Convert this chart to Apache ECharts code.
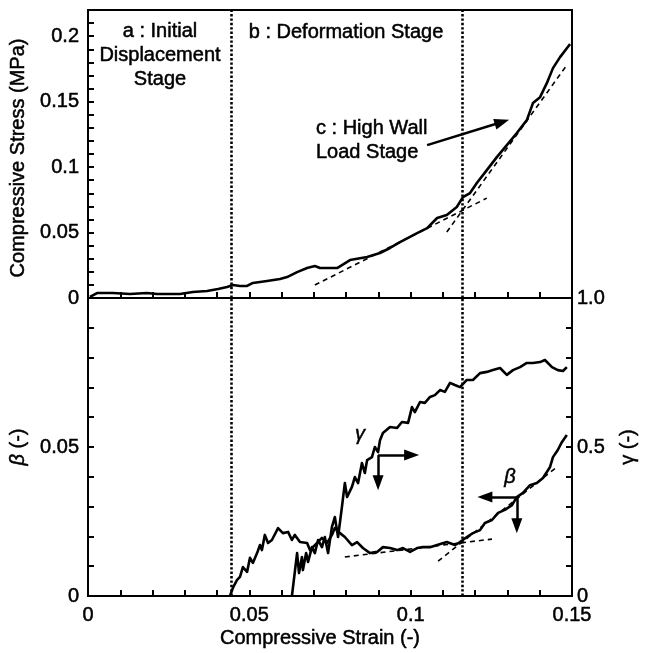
<!DOCTYPE html>
<html>
<head>
<meta charset="utf-8">
<script src="https://cdn.jsdelivr.net/npm/echarts@6/dist/echarts.min.js"></script>
<style>html,body{margin:0;padding:0;background:#fff}#c{width:651px;height:653px}</style>
</head>
<body>
<div id="c"></div>
<script>
// ---------- data ----------
const stressStrain = [0.0006,0.0028,0.0077,0.0130,0.0183,0.0214,0.0285,0.0325,0.0369,0.0403,0.0431,0.0449,0.0471,0.0493,0.0511,0.0555,0.0595,0.0617,0.0648,0.0679,0.0703,0.0719,0.0772,0.0812,0.0865,0.0905,0.0936,0.0967,0.1020,0.1051,0.1082,0.1112,0.1143,0.1162,0.1184,0.1205,0.1236,0.1267,0.1298,0.1329,0.1360,0.1379,0.1401,0.1422,0.1441,0.1463,0.1484,0.1494];
const stressValues = [0.0008,0.0038,0.0038,0.0031,0.0038,0.0031,0.0031,0.0046,0.0053,0.0069,0.0084,0.0099,0.0092,0.0092,0.0115,0.0130,0.0145,0.0160,0.0198,0.0229,0.0244,0.0229,0.0229,0.0290,0.0313,0.0344,0.0382,0.0427,0.0496,0.0534,0.0611,0.0634,0.0695,0.0771,0.0802,0.0878,0.0977,0.1076,0.1168,0.1260,0.1359,0.1489,0.1534,0.1641,0.1756,0.1840,0.1908,0.1939];

const betaStrain = [0.0440,0.0449,0.0462,0.0471,0.0480,0.0493,0.0502,0.0511,0.0524,0.0533,0.0539,0.0548,0.0558,0.0570,0.0589,0.0604,0.0620,0.0632,0.0641,0.0657,0.0679,0.0688,0.0710,0.0725,0.0741,0.0756,0.0765,0.0781,0.0796,0.0818,0.0834,0.0852,0.0874,0.0896,0.0914,0.0936,0.0958,0.0976,0.0998,0.1020,0.1038,0.1060,0.1082,0.1112,0.1137,0.1153,0.1174,0.1193,0.1215,0.1230,0.1252,0.1271,0.1292,0.1314,0.1329,0.1348,0.1370,0.1391,0.1410,0.1432,0.1441,0.1456,0.1469,0.1484];
const betaValues = [0,0.0027,0.0054,0.0064,0.0097,0.0081,0.0128,0.0111,0.0144,0.0171,0.0154,0.0205,0.0178,0.0188,0.0228,0.0211,0.0215,0.0188,0.0205,0.0181,0.0178,0.0154,0.0178,0.0195,0.0178,0.0205,0.0228,0.0211,0.0198,0.0171,0.0181,0.0161,0.0144,0.0148,0.0164,0.0161,0.0154,0.0161,0.0148,0.0161,0.0164,0.0164,0.0171,0.0181,0.0171,0.0181,0.0198,0.0211,0.0221,0.0245,0.0255,0.0279,0.0289,0.0305,0.0332,0.0346,0.0372,0.0379,0.0396,0.0433,0.0466,0.0490,0.0517,0.0540];

const gammaStrain = [0.0632,0.0648,0.0654,0.0663,0.0666,0.0676,0.0682,0.0694,0.0703,0.0713,0.0725,0.0734,0.0744,0.0756,0.0765,0.0775,0.0787,0.0796,0.0803,0.0818,0.0827,0.0837,0.0849,0.0858,0.0865,0.0880,0.0889,0.0899,0.0905,0.0914,0.0936,0.0958,0.0973,0.0992,0.1004,0.1013,0.1029,0.1044,0.1060,0.1075,0.1091,0.1106,0.1122,0.1137,0.1153,0.1174,0.1193,0.1215,0.1236,0.1255,0.1277,0.1298,0.1317,0.1339,0.1360,0.1379,0.1401,0.1416,0.1438,0.1456,0.1472,0.1484];
const gammaValues = [0,0.144,0.077,0.131,0.087,0.144,0.114,0.164,0.144,0.188,0.164,0.198,0.144,0.232,0.265,0.198,0.299,0.379,0.332,0.366,0.399,0.379,0.446,0.413,0.456,0.466,0.500,0.483,0.523,0.547,0.567,0.564,0.584,0.581,0.634,0.617,0.651,0.648,0.668,0.674,0.691,0.685,0.715,0.708,0.701,0.725,0.725,0.748,0.752,0.758,0.765,0.742,0.758,0.768,0.782,0.782,0.785,0.792,0.768,0.758,0.755,0.768];

// tangent (dashed) lines
const stressTangentLowX = [0.0703, 0.1236], stressTangentLowY = [0.0099, 0.0763];
const stressTangentHighX = [0.1112, 0.1484], stressTangentHighY = [0.0504, 0.1779];
const betaTangentLowX = [0.0796, 0.1252], betaTangentLowY = [0.0131, 0.0191];
const betaTangentHighX = [0.1085, 0.1450], betaTangentHighY = [0.0117, 0.0430];

// stage boundaries (strain)
const stageBoundaries = [0.0445, 0.1159];

// arrows: [startStrain, startValue, endStrain, endValue]
const stageCArrow = [0.1051, 0.1168, 0.1283, 0.1344];
const gammaArrows = [[0.0899, 0.473, 0.1003, 0.473], [0.0899, 0.473, 0.0899, 0.380]];
const betaArrows = [[0.1329, 0.0332, 0.1230, 0.0332], [0.1329, 0.0332, 0.1329, 0.0236]];

// tick labels
const strainTicks = [0, 0.05, 0.1, 0.15], strainTickText = ['0', '0.05', '0.1', '0.15'];
const stressTicks = [0, 0.05, 0.1, 0.15, 0.2], stressTickText = ['0', '0.05', '0.1', '0.15', '0.2'];
const betaTicks = [0, 0.05], betaTickText = ['0', '0.05'];
const gammaTicks = [0, 0.5, 1.0], gammaTickText = ['0', '0.5', '1.0'];

// ---------- chart ----------
const zip = (a, b) => a.map((v, i) => [v, b[i]]);
const labelFor = (vals, texts) => v => {
  for (let i = 0; i < vals.length; i++) if (Math.abs(v - vals[i]) < 1e-6) return texts[i];
  return '';
};
const FONT = 'Liberation Sans, Arial, Helvetica, sans-serif';
const txt = { color: '#000', fontFamily: FONT, fontSize: 20, textBorderColor: '#000', textBorderWidth: 0.5 };
const axisLine = { show: true, onZero: false, lineStyle: { color: '#000', width: 2 } };
const tick = { show: true, inside: true, length: 6, lineStyle: { color: '#000', width: 2 } };
const arrowLine = (arr) => arr.map(a => [
  { coord: [a[0], a[1]], symbol: 'none' },
  { coord: [a[2], a[3]], symbol: 'triangle', symbolSize: [11, 15] }
]);
const boundaryMark = {
  silent: true, precision: 6, symbol: ['none', 'none'], label: { show: false },
  lineStyle: { color: '#000', width: 2.6, type: [2.4, 2] },
  data: stageBoundaries.map(v => ({ xAxis: v }))
};
const arrowMark = (arr) => ({
  silent: true, precision: 6, label: { show: false },
  lineStyle: { color: '#000', width: 2.5, type: 'solid' },
  data: arrowLine(arr)
});
const curveStyle = { color: '#000', width: 2.6, join: 'round' };
const dashStyle = { color: '#000', width: 1.6, type: [5, 4] };
const gText = (text, x, y, align, extra) => ({
  type: 'text', x, y,
  style: Object.assign({ text, fill: '#000', font: '20px ' + FONT, lineHeight: 24, align,
    verticalAlign: 'middle', stroke: '#000', lineWidth: 0.5 }, extra || {})
});

const chart = echarts.init(document.getElementById('c'), null, { renderer: 'canvas' });
chart.setOption({
  animation: false,
  backgroundColor: '#fff',
  grid: [
    { left: 88, right: 79, top: 10, height: 288, show: true, borderColor: '#000', borderWidth: 2 },
    { left: 88, right: 79, top: 298, height: 298, show: true, borderColor: '#000', borderWidth: 2 }
  ],
  xAxis: [
    { type: 'value', gridIndex: 0, min: 0, max: 0.15, interval: 0.01,
      axisLine, axisTick: tick, axisLabel: { show: false }, splitLine: { show: false } },
    { type: 'value', gridIndex: 1, min: 0, max: 0.15, interval: 0.01,
      axisLine, axisTick: tick, splitLine: { show: false },
      axisLabel: Object.assign({ margin: 9, formatter: labelFor(strainTicks, strainTickText) }, txt),
      name: 'Compressive Strain (-)', nameLocation: 'middle', nameGap: 32,
      nameTextStyle: Object.assign({ padding: [0, 20, 0, 0] }, txt) }
  ],
  yAxis: [
    { type: 'value', gridIndex: 0, min: 0, max: 0.22, interval: 0.01,
      axisLine, axisTick: tick, splitLine: { show: false },
      axisLabel: Object.assign({ margin: 9, formatter: labelFor(stressTicks, stressTickText) }, txt),
      name: 'Compressive Stress (MPa)', nameLocation: 'middle', nameRotate: 90, nameGap: 58,
      nameTextStyle: Object.assign({ padding: [0, 8, 0, 0] }, txt) },
    { type: 'value', gridIndex: 1, min: 0, max: 0.1, interval: 0.01, position: 'left',
      axisLine, axisTick: tick, splitLine: { show: false },
      axisLabel: Object.assign({ margin: 9, formatter: labelFor(betaTicks, betaTickText) }, txt),
      name: '{i|β} (-)', nameLocation: 'middle', nameRotate: 90, nameGap: 58,
      nameTextStyle: Object.assign({ rich: { i: Object.assign({ fontStyle: 'italic' }, txt) } }, txt) },
    { type: 'value', gridIndex: 1, min: 0, max: 1, interval: 0.1, position: 'right',
      axisLine, axisTick: tick, splitLine: { show: false },
      axisLabel: Object.assign({ margin: 5, formatter: labelFor(gammaTicks, gammaTickText) }, txt),
      name: 'γ (-)', nameLocation: 'middle', nameRotate: 90, nameGap: 46,
      nameTextStyle: txt }
  ],
  series: [
    { type: 'line', xAxisIndex: 0, yAxisIndex: 0, showSymbol: false, lineStyle: curveStyle,
      data: zip(stressStrain, stressValues), markLine: boundaryMark, z: 3 },
    { type: 'line', xAxisIndex: 0, yAxisIndex: 0, showSymbol: false, lineStyle: dashStyle,
      data: zip(stressTangentLowX, stressTangentLowY) },
    { type: 'line', xAxisIndex: 0, yAxisIndex: 0, showSymbol: false, lineStyle: dashStyle,
      data: zip(stressTangentHighX, stressTangentHighY), markLine: arrowMark([stageCArrow]) },
    { type: 'line', xAxisIndex: 1, yAxisIndex: 1, showSymbol: false, lineStyle: curveStyle,
      data: zip(betaStrain, betaValues), markLine: boundaryMark, z: 3 },
    { type: 'line', xAxisIndex: 1, yAxisIndex: 1, showSymbol: false, lineStyle: dashStyle,
      data: zip(betaTangentLowX, betaTangentLowY) },
    { type: 'line', xAxisIndex: 1, yAxisIndex: 1, showSymbol: false, lineStyle: dashStyle,
      data: zip(betaTangentHighX, betaTangentHighY), markLine: arrowMark(betaArrows) },
    { type: 'line', xAxisIndex: 1, yAxisIndex: 2, showSymbol: false, lineStyle: curveStyle,
      data: zip(gammaStrain, gammaValues), z: 3, markLine: arrowMark(gammaArrows) }
  ],
  graphic: [
    gText('a : Initial\nDisplacement\nStage', 160, 55, 'center'),
    gText('b : Deformation Stage', 346, 32, 'center'),
    gText('c : High Wall\nLoad Stage', 316, 140, 'left'),
    gText('γ', 360, 434, 'center', { font: 'italic 20px ' + FONT }),
    gText('β', 510, 477, 'center', { font: 'italic 20px ' + FONT })
  ]
});
</script>
</body>
</html>
